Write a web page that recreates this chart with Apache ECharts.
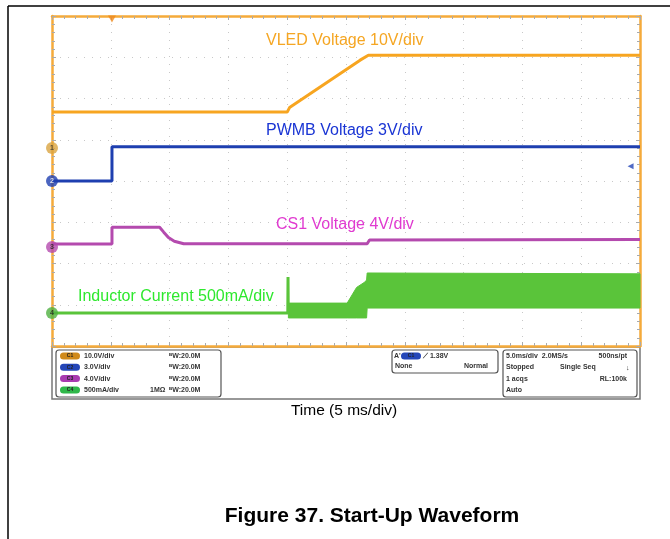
<!DOCTYPE html>
<html><head><meta charset="utf-8">
<script src="https://cdn.jsdelivr.net/npm/echarts@6/dist/echarts.min.js"></script>
<style>html,body{margin:0;padding:0;background:#fff}#c{width:670px;height:539px}</style>
</head><body><div id="c"></div>
<script>
// time in ms (5 ms/div), trigger at 0 ; vertical position in screen divisions (0..8)
const timeRange = [-5, 45];
const divRange = [0, 8];
const vled = [[-5,5.67],[15.0,5.67],[15.2,5.78],[21.2,6.93],[21.9,7.05],[45,7.05]];
const pwmb = [[-5,4.0],[0.1,4.0],[0.1,4.83],[45,4.83]];
const cs1 = [[-5,2.47],[0.1,2.47],[0.1,2.88],[4.15,2.88],[4.5,2.76],[4.9,2.63],[5.4,2.54],[6.2,2.48],[21.8,2.48],[22.0,2.57],[45,2.58]];
const inductorFlat = [[-5,0.80],[15.05,0.80],[15.07,1.67],[15.09,0.85],[15.1,0.85]];
const bandTime = [15.1, 20.1, 20.9, 21.6, 21.75, 21.8, 45];
const bandLow  = [0.68, 0.68, 0.68, 0.68, 0.68, 0.92, 0.92];
const bandHigh = [1.04, 1.04, 1.42, 1.55, 1.6, 1.77, 1.75];
const channelMarkers = [['1',4.8,'#d9a441','#333'],['2',4.0,'#1e3fb0','#fff'],['3',2.4,'#b44aae','#222'],['4',0.8,'#4fb040','#222']];
const triggerLevel = [44.2, 4.36];

const ORANGE = '#f5aa3a';
function xAx(pos, grid){
  return {type:'value', min:timeRange[0], max:timeRange[1], interval:5, position:pos,
    axisLine:{show:true, onZero:false, lineStyle:{color:ORANGE,width:2.5}},
    axisTick:{show:true, inside:true, length:4, lineStyle:{color:'#aaa'}},
    minorTick:{show:true, splitNumber:5, length:3, lineStyle:{color:'#aaa'}},
    axisLabel:{show:false},
    splitLine:{show:grid, lineStyle:{color:'#c8c8c8', type:[1,7], width:1}}};
}
function yAx(pos, grid){
  return {type:'value', min:divRange[0], max:divRange[1], interval:1, position:pos,
    axisLine:{show:true, onZero:false, lineStyle:{color:ORANGE,width:2.5}},
    axisTick:{show:true, inside:true, length:4, lineStyle:{color:'#aaa'}},
    minorTick:{show:true, splitNumber:5, length:3, lineStyle:{color:'#aaa'}},
    axisLabel:{show:false},
    splitLine:{show:grid, lineStyle:{color:'#c8c8c8', type:[1,7], width:1}}};
}
const lineS = (name, data, color, w) => ({name, type:'line', data, symbol:'none', animation:false,
  lineStyle:{color, width:w}, itemStyle:{color}, z:3});

const F = 'Liberation Sans, Arial, sans-serif';
const g = [];
// page frame
g.push({type:'line', shape:{x1:8,y1:6,x2:670,y2:6}, style:{stroke:'#000',lineWidth:1.5}});
g.push({type:'line', shape:{x1:8,y1:6,x2:8,y2:539}, style:{stroke:'#000',lineWidth:1.5}});
// trace labels
const lbl = (t,x,y,c,s,w) => g.push({type:'text', x, y, style:{text:t, fill:c, font:(w||'normal')+' '+s+'px '+F, textVerticalAlign:'middle'}, z:10});
lbl('VLED Voltage 10V/div',266,41,'#f5a623',16);
lbl('PWMB Voltage 3V/div',266,131,'#1a35d4',16);
lbl('CS1 Voltage 4V/div',276,225,'#e03ad0',16);
lbl('Inductor Current 500mA/div',78,297,'#2ee82e',16);
g.push({type:'text', x:344, y:411, style:{text:'Time (5 ms/div)', fill:'#000', font:'15.5px '+F, textAlign:'center', textVerticalAlign:'middle'}});
g.push({type:'text', x:372, y:516, style:{text:'Figure 37. Start-Up Waveform', fill:'#000', font:'bold 21px '+F, textAlign:'center', textVerticalAlign:'middle'}});
// status panel
g.push({type:'rect', shape:{x:52,y:347,width:588,height:52}, style:{fill:'#fff',stroke:'#777',lineWidth:1.5}});
const box = (x,y,w,h) => g.push({type:'rect', shape:{x,y,width:w,height:h,r:3}, style:{fill:'#fff',stroke:'#555',lineWidth:1.2}});
box(56,350,165,47); box(392,350,106,23); box(503,350,134,47);
const st = (t,x,y,a) => g.push({type:'text', x, y, style:{text:t, fill:'#333', font:'bold 7px '+F, textAlign:a||'left', textVerticalAlign:'middle'}, z:10});
const pill = (x,y,c,t) => { g.push({type:'rect', shape:{x,y:y-3.5,width:20,height:7,r:3.5}, style:{fill:c}, z:10});
  g.push({type:'text', x:x+10, y, style:{text:t, fill:'#222', font:'bold 5px '+F, textAlign:'center', textVerticalAlign:'middle'}, z:11}); };
const rows = [['#d08a1a','C1','10.0V/div',''],['#2446b8','C2','3.0V/div',''],['#a83ab0','C3','4.0V/div',''],['#2fb84a','C4','500mA/div','1MΩ']];
rows.forEach((r,i)=>{ const y=356+i*11.3; pill(60,y,r[0],r[1]); st(r[2],84,y); if(r[3]) st(r[3],150,y); st('ᴮW:20.0M',169,y); });
st("A'",394,356); pill(401,356,'#2446b8','C1'); st('⟋ 1.38V',423,356);
st('None',395,366); st('Normal',488,366,'right');
st('5.0ms/div  2.0MS/s',506,356); st('500ns/pt',627,356,'right');
st('Stopped',506,367); st('Single Seq',560,367); st('↓',626,368);
st('1 acqs',506,379); st('RL:100k',627,379,'right');
st('Auto',506,390);

const option = {
  backgroundColor:'#fff', animation:false,
  grid:{left:52, right:30, top:16, bottom:193, containLabel:false},
  xAxis:[xAx('bottom',true), xAx('top',false)],
  yAxis:[yAx('left',true), yAx('right',false)],
  series:[
    lineS('VLED', vled, '#f7a520', 3),
    lineS('PWMB', pwmb, '#1e3fb0', 3),
    lineS('CS1', cs1, '#b44aae', 3),
    lineS('Inductor', inductorFlat, '#5ac43a', 3),
    {name:'InductorBand', type:'custom', z:2, data:[0],
      renderItem:(params, api) => {
        const up = bandTime.map((t,i)=>api.coord([t,bandHigh[i]]));
        const lo = bandTime.map((t,i)=>api.coord([t,bandLow[i]])).reverse();
        return {type:'polygon', shape:{points:up.concat(lo)}, style:{fill:'#5ac43a', stroke:'#5ac43a', lineWidth:1}};
      }},
    {name:'markers', type:'scatter', clip:false, symbol:'circle', symbolSize:12, z:5,
      data:channelMarkers.map(m=>({value:[timeRange[0],m[1]], itemStyle:{color:m[2]}, label:{show:true, formatter:m[0], color:m[3], fontSize:7, fontWeight:'bold', fontFamily:F}}))},
    {name:'trigger', type:'scatter', clip:false, symbol:'triangle', symbolRotate:180, symbolSize:[8,7], symbolOffset:[0,3], z:5,
      data:[[0.1, divRange[1]]], itemStyle:{color:'#f08a1a'}},
    {name:'level', type:'scatter', clip:false, symbol:'triangle', symbolRotate:90, symbolSize:[6,6], z:5,
      data:[triggerLevel], itemStyle:{color:'#2446b8'}}
  ],
  graphic:g
};
echarts.init(document.getElementById('c'), null, {renderer:'canvas'}).setOption(option);
</script></body></html>
